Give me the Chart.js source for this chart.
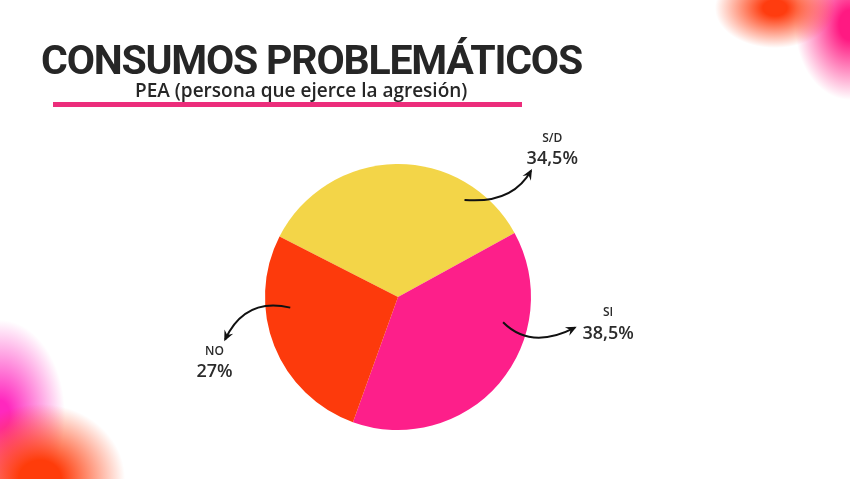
<!DOCTYPE html>
<html>
<head>
<meta charset="utf-8">
<script src="https://cdn.jsdelivr.net/npm/chart.js@4"></script>
<style>
  html, body { margin: 0; padding: 0; }
  body {
    width: 850px; height: 479px; position: relative; overflow: hidden;
    background:
      radial-gradient(ellipse 60px 40px at 775px 8px, rgba(255,60,15,1) 20%, rgba(255,60,15,0) 100%),
      radial-gradient(ellipse 55px 75px at 850px 25px, rgba(255,25,130,1) 20%, rgba(255,25,130,0) 100%),
      radial-gradient(ellipse 85px 75px at 40px 479px, rgba(255,60,10,1) 25%, rgba(255,60,10,0) 100%),
      radial-gradient(ellipse 65px 95px at 0px 415px, rgba(255,40,190,1) 15%, rgba(255,40,190,0) 100%),
      #ffffff;
    font-family: "Open Sans", sans-serif;
  }
  #title {
    position: absolute; left: 41px; top: 36px; margin: 0;
    font-family: Roboto, sans-serif; letter-spacing: -1.2px;
    font-size: 41px; font-weight: 700; color: #262626; white-space: nowrap;
  }
  #subtitle {
    position: absolute; left: 135px; top: 77px; margin: 0;
    font-size: 19px; font-weight: 600; color: #262626; white-space: nowrap;
  }
  #rule {
    position: absolute; left: 53px; top: 102px; width: 469px; height: 5px; background: #ec2d7b;
  }
  #wrap { position: absolute; left: 0; top: 0; width: 850px; height: 479px; }
</style>
</head>
<body>
<div id="wrap"><canvas id="pieChart"></canvas></div>
<h1 id="title">CONSUMOS PROBLEMÁTICOS</h1>
<p id="subtitle">PEA (persona que ejerce la agresión)</p>
<div id="rule"></div>
<script>
// Data
const categories = ["S/D", "SI", "NO"];
const percentages = [34.5, 38.5, 27];
const percentLabels = ["34,5%", "38,5%", "27%"];
const sliceColors = ["#f3d548", "#fd1f8a", "#fd3a0c"];

// Callouts: arrow start, control point, arrow end and label centre,
// given as multiples of the pie radius from the pie centre
const callouts = [
  { s: [0.50, -0.73], c: [0.86, -0.70], e: [1.00, -0.95], l: [1.16, -1.11] },
  { s: [0.79, 0.19], c: [1.00, 0.40], e: [1.33, 0.23], l: [1.58, 0.20] },
  { s: [-0.81, 0.08], c: [-1.15, 0.00], e: [-1.30, 0.32], l: [-1.38, 0.49] }
];

const calloutPlugin = {
  id: "callouts",
  afterDraw(chart) {
    const ctx = chart.ctx;
    const arc = chart.getDatasetMeta(0).data[0];
    const cx = arc.x, cy = arc.y, r = arc.outerRadius;
    const pt = p => [cx + p[0] * r, cy + p[1] * r];

    callouts.forEach((c, i) => {
      const [sx, sy] = pt(c.s), [qx, qy] = pt(c.c), [ex, ey] = pt(c.e), [lx, ly] = pt(c.l);

      ctx.save();
      ctx.strokeStyle = "#111";
      ctx.lineWidth = 2;
      ctx.beginPath();
      ctx.moveTo(sx, sy);
      ctx.quadraticCurveTo(qx, qy, ex, ey);
      ctx.stroke();

      // arrow head along the curve's end tangent
      const ang = Math.atan2(ey - qy, ex - qx);
      const len = 10;
      ctx.fillStyle = "#111";
      ctx.beginPath();
      ctx.moveTo(ex + Math.cos(ang) * 2, ey + Math.sin(ang) * 2);
      ctx.lineTo(ex - Math.cos(ang - 0.5) * len, ey - Math.sin(ang - 0.5) * len);
      ctx.lineTo(ex - Math.cos(ang) * 5, ey - Math.sin(ang) * 5);
      ctx.lineTo(ex - Math.cos(ang + 0.5) * len, ey - Math.sin(ang + 0.5) * len);
      ctx.closePath();
      ctx.fill();

      ctx.fillStyle = "#2b2b2b";
      ctx.textAlign = "center";
      ctx.textBaseline = "middle";
      ctx.font = "600 12px 'Open Sans'";
      ctx.fillText(categories[i], lx, ly - 11);
      ctx.font = "600 18px 'Open Sans'";
      ctx.fillText(percentLabels[i], lx, ly + 10);
      ctx.restore();
    });
  }
};

new Chart(document.getElementById("pieChart"), {
  type: "pie",
  data: {
    labels: categories,
    datasets: [{
      data: percentages,
      backgroundColor: sliceColors,
      borderWidth: 0,
      hoverOffset: 0
    }]
  },
  options: {
    responsive: true,
    maintainAspectRatio: false,
    animation: false,
    rotation: -63,
    layout: { padding: { left: 265, right: 319, top: 164, bottom: 49 } },
    plugins: {
      legend: { display: false },
      tooltip: { enabled: false }
    }
  },
  plugins: [calloutPlugin]
});
</script>
</body>
</html>
